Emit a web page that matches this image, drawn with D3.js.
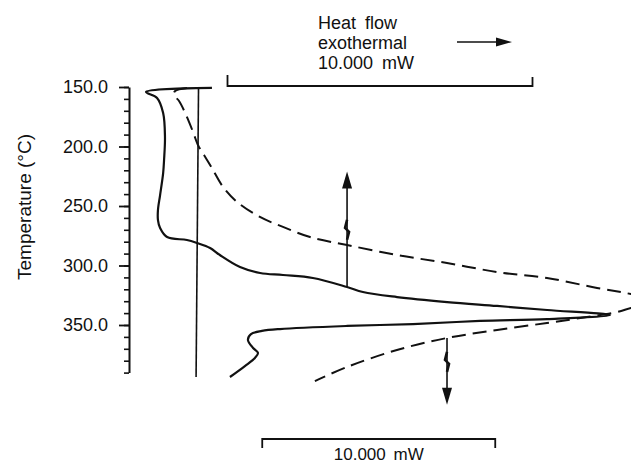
<!DOCTYPE html>
<html lang="en">
<head>
<meta charset="UTF-8">
<title>DSC trace</title>
<script src="https://cdnjs.cloudflare.com/ajax/libs/d3/7.8.5/d3.min.js"></script>
<style>
  body { margin: 0; background: #fff; }
  svg { display: block; }
  text { font-family: "Liberation Sans", Arial, sans-serif; fill: #111; }
</style>
</head>
<body>
<svg id="chart" width="631" height="464"></svg>
<script>
// heat flow in mW relative to the reference line, temperature in deg C
const solidTemp = [150.8, 154.2, 159.2, 171.8, 192.0, 211.3, 222.3, 240.8, 253.4, 261.8, 268.5, 276.1, 278.6, 281.1,
  285.3, 291.2, 301.3, 306.3, 308.0, 310.5, 318.1, 322.3, 326.5, 330.7, 334.0, 337.4, 341.6,
  345.0, 346.6, 349.2, 350.8, 353.4, 355.0, 357.6, 362.6, 369.3, 373.5, 377.7, 384.5, 393.7];
const solidFlow = [0.49, -1.67, -1.31, -1.11, -1.05, -1.08, -1.11, -1.21, -1.28, -1.28, -1.21, -0.98, -0.33, 0.00,
  0.43, 0.75, 1.41, 2.07, 2.82, 3.80, 4.92, 5.44, 6.56, 8.20, 9.84, 11.48, 13.54,
  11.48, 9.28, 7.08, 4.92, 2.72, 2.13, 1.77, 1.67, 1.84, 2.00, 1.90, 1.57, 1.08];

const dashTemp = [150.8, 153.4, 156.7, 161.8, 173.5, 187.8, 198.7, 207.1, 218.1, 234.0, 246.6, 259.2, 267.6, 276.1,
  282.8, 291.2, 297.9, 305.5, 310.5, 318.9, 324.0, 329.8, 335.7, 339.1, 343.3, 348.3, 354.2,
  360.9, 371.0, 385.3, 397.1];
const dashFlow = [-0.43, -0.94, -0.99, -0.77, -0.47, -0.17, 0.04, 0.30, 0.64, 1.12, 1.72, 2.70, 3.69, 4.85,
  6.44, 8.58, 10.73, 12.88, 15.02, 17.17, 18.63, 19.87, 18.63, 18.03, 16.74, 15.02, 12.88,
  10.73, 8.58, 6.44, 5.06];

const refTemp = [150.8, 393.7];
const refFlow = [0.05, -0.03];

const majorTicks = [150, 200, 250, 300, 350];
const minorTicks = d3.range(150, 391, 10);
const tickLabels = ['150.0', '200.0', '250.0', '300.0', '350.0'];

const titleLines = ['Heat flow', 'exothermal', '10.000 mW'];
const scaleLabel = '10.000 mW';
const topBar = [1, 11];       // mW on the solid trace scale
const bottomBar = [2.8, 12.8]; // mW on the dashed trace scale
const upArrow = { flow: 4.92, from: 318.1, to: 221, brk: 270 };
const downArrow = { flow: 10.73, from: 360.9, to: 417, brk: 381 };

const svg = d3.select('#chart');

const y = d3.scaleLinear().domain([150, 390]).range([87, 372.6]);
const xTop = d3.scaleLinear().domain([0, 10]).range([197, 502]);
const xBot = d3.scaleLinear().domain([0, 10]).range([197, 430]);

// axis: minor ticks, then major ticks with labels
svg.append('g')
  .attr('transform', 'translate(129,0)')
  .call(d3.axisLeft(y).tickValues(minorTicks).tickSize(5).tickSizeOuter(0).tickFormat(''))
  .call(g => g.selectAll('line').attr('stroke', '#111').attr('stroke-width', 1.6))
  .call(g => g.select('.domain').attr('stroke', '#111').attr('stroke-width', 2));

svg.append('g')
  .attr('transform', 'translate(129,0)')
  .call(d3.axisLeft(y).tickValues(majorTicks).tickSize(10).tickSizeOuter(0).tickPadding(11)
    .tickFormat((d, i) => tickLabels[i]))
  .call(g => g.select('.domain').remove())
  .call(g => g.selectAll('line').attr('stroke', '#111').attr('stroke-width', 1.8))
  .call(g => g.selectAll('text').attr('font-size', 18).attr('font-family', '"Liberation Sans", Arial, sans-serif').attr('fill', '#111'));

svg.append('text')
  .attr('transform', 'translate(24,207) rotate(-90)')
  .attr('text-anchor', 'middle')
  .attr('dominant-baseline', 'central')
  .attr('font-size', 19)
  .text('Temperature (\u00B0C)');

// reference line
svg.append('line')
  .attr('x1', xTop(refFlow[0])).attr('y1', y(refTemp[0]))
  .attr('x2', xTop(refFlow[1])).attr('y2', y(refTemp[1]))
  .attr('stroke', '#111').attr('stroke-width', 1.6);

const lineTop = d3.line()
  .x((d, i) => xTop(solidFlow[i]))
  .y(d => y(d))
  .curve(d3.curveCatmullRom.alpha(0.5));

const lineBot = d3.line()
  .x((d, i) => xBot(dashFlow[i]))
  .y(d => y(d))
  .curve(d3.curveCatmullRom.alpha(0.5));

svg.append('path')
  .attr('d', lineTop(solidTemp))
  .attr('fill', 'none').attr('stroke', '#111').attr('stroke-width', 2.2);

svg.append('path')
  .attr('d', lineBot(dashTemp))
  .attr('fill', 'none').attr('stroke', '#111').attr('stroke-width', 2)
  .attr('stroke-dasharray', '14,7');

// vertical arrows with break marks
function vArrow(xs, a) {
  const x = xs(a.flow), y0 = y(a.from), y1 = y(a.to), yb = y(a.brk);
  const dir = y1 < y0 ? -1 : 1;
  svg.append('line')
    .attr('x1', x).attr('y1', y0).attr('x2', x).attr('y2', y1 - dir * 14)
    .attr('stroke', '#111').attr('stroke-width', 1.6);
  svg.append('path')
    .attr('d', `M${x},${y1} L${x - 5},${y1 - dir * 17} L${x + 5},${y1 - dir * 17} Z`)
    .attr('fill', '#111');
  svg.append('path')
    .attr('d', `M${x},${yb + 10} L${x + 2},${yb + 2} L${x - 2},${yb - 2} L${x},${yb - 10}`)
    .attr('fill', 'none').attr('stroke', '#111').attr('stroke-width', 2.6);
}
vArrow(xTop, upArrow);
vArrow(xBot, downArrow);

// scale bars
svg.append('path')
  .attr('d', `M${xTop(topBar[0])},75 V86 H${xTop(topBar[1])} V77`)
  .attr('fill', 'none').attr('stroke', '#111').attr('stroke-width', 1.8);

svg.append('path')
  .attr('d', `M${xBot(bottomBar[0])},448 V439 H${xBot(bottomBar[1])} V448`)
  .attr('fill', 'none').attr('stroke', '#111').attr('stroke-width', 1.8);

svg.append('text')
  .attr('x', (xBot(bottomBar[0]) + xBot(bottomBar[1])) / 2)
  .attr('y', 460)
  .attr('text-anchor', 'middle')
  .attr('font-size', 17)
  .attr('word-spacing', 3)
  .text(scaleLabel);

// header text and direction arrow
svg.selectAll('.title')
  .data(titleLines)
  .enter()
  .append('text')
  .attr('class', 'title')
  .attr('x', 318)
  .attr('y', (d, i) => 29 + i * 20)
  .attr('font-size', 18)
  .attr('word-spacing', 4)
  .text(d => d);

svg.append('line')
  .attr('x1', 457).attr('y1', 42).attr('x2', 498).attr('y2', 42)
  .attr('stroke', '#111').attr('stroke-width', 1.4);
svg.append('path')
  .attr('d', 'M512,42 L496,37.5 L496,46.5 Z')
  .attr('fill', '#111');
</script>
</body>
</html>
